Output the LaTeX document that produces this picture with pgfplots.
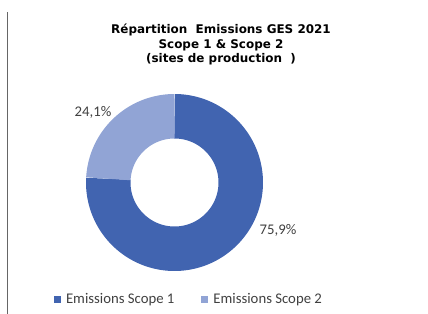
\documentclass[border=0pt]{standalone}
\usepackage{fontspec}
\setmainfont{Carlito}
\newfontfamily\titlefont{DejaVu Sans}
\usepackage{pgfplots}
\usepackage{pgfplotstable}
\pgfplotsset{compat=1.18}
\definecolor{cA}{RGB}{65,100,176}
\definecolor{cB}{RGB}{145,164,213}
\definecolor{txt}{RGB}{64,64,64}
\pgfplotstableread{
series value
1 75.9
2 24.1
}\datatable
\begin{document}
\begin{tikzpicture}
\pgfplotstablegetelem{0}{value}\of\datatable \let\vA\pgfplotsretval
\pgfplotstablegetelem{1}{value}\of\datatable \let\vB\pgfplotsretval
\pgfmathsetmacro\vAB{\vA+\vB}
\begin{axis}[
  at={(0,0)}, anchor=south west,
  x=1bp, y=1bp, xmin=0, xmax=428, ymin=0, ymax=314,
  hide axis, clip=false,
  legend image code/.code={\fill[#1] (0bp,-3.5bp) rectangle (7bp,3.5bp); \path (10bp,0);},
  legend columns=2,
  legend style={at={(axis cs:189,14.5)}, anchor=center, draw=none, fill=none,
    font=\fontsize{14.8}{16}\selectfont, text=txt,
    /tikz/every even column/.append style={column sep=25bp}},
]
\addplot[cA, line width=44.5bp, domain=0:\vA, samples=200, forget plot]
  ({174.5+66.25*cos(90-3.6*x)}, {131.5+66.25*sin(90-3.6*x)});
\addplot[cB, line width=44.5bp, domain=\vA:\vAB, samples=80, forget plot]
  ({174.5+66.25*cos(90-3.6*x)}, {131.5+66.25*sin(90-3.6*x)});
\addlegendimage{fill=cA, draw=none}
\addlegendentry{Emissions Scope 1}
\addlegendimage{fill=cB, draw=none}
\addlegendentry{Emissions Scope 2}
\node[text=txt, font=\fontsize{14.8}{16}\selectfont] at (axis cs:93,202) {24,1\%};
\node[text=txt, font=\fontsize{14.8}{16}\selectfont] at (axis cs:278,83.5) {75,9\%};
\node[align=center, font=\titlefont\bfseries\fontsize{12}{15}\selectfont] at (axis cs:221,269.5)
  {Répartition\ \ Emissions GES 2021\\Scope 1 \& Scope 2\\(sites de production\ \ )};
\draw[black!60, line width=1bp] (axis cs:7.5,0) -- (axis cs:7.5,302);
\end{axis}
\pgfresetboundingbox
\path (0,0) rectangle (428bp,314bp);
\end{tikzpicture}
\end{document}
